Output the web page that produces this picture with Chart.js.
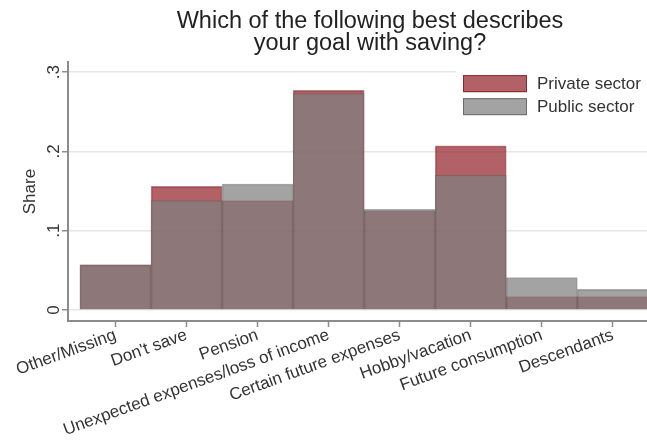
<!DOCTYPE html>
<html>
<head>
<meta charset="utf-8">
<script src="https://cdn.jsdelivr.net/npm/chart.js@4/dist/chart.umd.min.js"></script>
<style>
  html, body { margin: 0; padding: 0; background: #fff; overflow: hidden; }
  #wrap { width: 740px; height: 441px; }
</style>
</head>
<body>
<div id="wrap"><canvas id="savingChart" width="740" height="441"></canvas></div>
<script>
const categories = ['Other/Missing', "Don't save", 'Pension', 'Unexpected expenses/loss of income',
    'Certain future expenses', 'Hobby/vacation', 'Future consumption', 'Descendants']
const privateShare = [0.057, 0.156, 0.138, 0.277, 0.125, 0.207, 0.017, 0.017]
const publicShare = [0.057, 0.138, 0.159, 0.273, 0.127, 0.170, 0.041, 0.026]
const yTickValues = [0, 0.1, 0.2, 0.3]
const yTickLabels = ['0', '.1', '.2', '.3']
const seriesNames = ['Private sector', 'Public sector']

const privateColor = 'rgba(145,31,39,0.7)'
const publicColor = 'rgba(127,127,127,0.72)'
const axisColor = '#8c8c8c'
const textColor = '#333'
const fontFamily = "'Liberation Sans', Arial, Helvetica, sans-serif"

const toPoints = (values) => values.map((v, i) => ({ x: i, y: v }))

// legend drawn by hand: white box over the top grid line, like the original
const legendBox = {
    id: 'legendBox',
    afterDatasetsDraw(chart) {
        const ctx = chart.ctx
        const area = chart.chartArea
        const x0 = area.left + 395
        const y0 = area.top + 13
        ctx.save()
        ctx.fillStyle = '#fff'
        ctx.fillRect(area.left + 388, area.top + 2, area.right - area.left, 58)
        const colors = [privateColor, publicColor]
        const borders = ['rgba(120,20,30,0.75)', 'rgba(90,90,90,0.75)']
        seriesNames.forEach((name, i) => {
            const y = y0 + i * 23
            ctx.fillStyle = colors[i]
            ctx.fillRect(x0, y, 64, 17)
            ctx.strokeStyle = borders[i]
            ctx.lineWidth = 1
            ctx.strokeRect(x0 + 0.5, y + 0.5, 63, 16)
            ctx.fillStyle = textColor
            ctx.font = '17px ' + fontFamily
            ctx.textBaseline = 'middle'
            ctx.textAlign = 'left'
            ctx.fillText(name, x0 + 74, y + 9)
        })
        ctx.restore()
    }
}

new Chart(document.getElementById('savingChart'), {
    type: 'bar',
    data: {
        datasets: [
            {
                label: seriesNames[0],
                data: toPoints(privateShare),
                backgroundColor: privateColor,
                borderColor: 'rgba(120,20,30,0.5)',
                borderWidth: 1,
                grouped: false,
                barPercentage: 1,
                categoryPercentage: 1,
                order: 1
            },
            {
                label: seriesNames[1],
                data: toPoints(publicShare),
                backgroundColor: publicColor,
                borderColor: 'rgba(90,90,90,0.5)',
                borderWidth: 1,
                grouped: false,
                barPercentage: 1,
                categoryPercentage: 1,
                order: 0
            }
        ]
    },
    options: {
        responsive: false,
        animation: false,
        layout: { padding: 0 },
        plugins: {
            legend: { display: false },
            tooltip: { enabled: false },
            title: {
                display: true,
                text: ['Which of the following best describes', 'your goal with saving?'],
                color: '#222',
                font: { family: fontFamily, size: 23.5, weight: 'normal', lineHeight: 0.95 },
                padding: { top: 10, bottom: 7.5 }
            }
        },
        scales: {
            x: {
                type: 'linear',
                offset: false,
                min: -0.669,
                max: 8.79,
                afterBuildTicks: (scale) => {
                    scale.ticks = categories.map((c, i) => ({ value: i }))
                },
                afterFit: (scale) => { scale.height = 120 },
                ticks: {
                    autoSkip: false,
                    minRotation: 20,
                    maxRotation: 20,
                    padding: -2,
                    color: textColor,
                    font: { family: fontFamily, size: 17 },
                    callback: (v) => categories[v]
                },
                grid: { offset: false, drawOnChartArea: false, drawTicks: true, tickLength: 6, tickColor: axisColor, tickWidth: 1.5 },
                border: { display: true, color: axisColor, width: 2 }
            },
            y: {
                min: -0.0139,
                max: 0.3127,
                afterBuildTicks: (scale) => {
                    scale.ticks = yTickValues.map((v) => ({ value: v }))
                },
                afterFit: (scale) => { scale.width = 68 },
                ticks: {
                    minRotation: 90,
                    maxRotation: 90,
                    crossAlign: 'center',
                    padding: 1,
                    color: textColor,
                    font: { family: fontFamily, size: 17 },
                    callback: (v) => yTickLabels[yTickValues.indexOf(v)]
                },
                grid: { color: '#e6e6e6', lineWidth: 1.5, tickLength: 6, tickColor: axisColor, tickWidth: 1.5 },
                border: { display: true, color: axisColor, width: 2 },
                title: {
                    display: true,
                    text: 'Share',
                    color: textColor,
                    font: { family: fontFamily, size: 17 },
                    padding: { top: 20, bottom: 0 }
                }
            }
        }
    },
    plugins: [legendBox]
})
</script>
</body>
</html>
